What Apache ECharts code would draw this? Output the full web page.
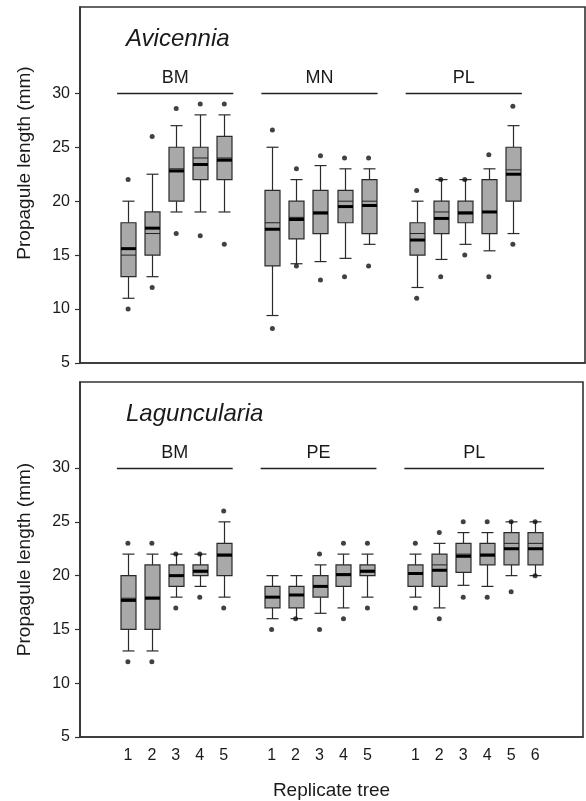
<!DOCTYPE html>
<html>
<head>
<meta charset="utf-8">
<script src="https://cdn.jsdelivr.net/npm/echarts@6/dist/echarts.min.js"></script>
<style>
  html, body { margin: 0; padding: 0; background: #fff; }
  #chart { width: 586px; height: 801px; }
</style>
</head>
<body>
<div id="chart"></div>
<script>
// ---------- Categories (x slots, blanks separate the sites) ----------
const treeCatsTop    = ['', '', '1','2','3','4','5', '', '1','2','3','4','5', '', '1','2','3','4','5', '', '', ''];
const treeCatsBottom = ['', '', '1','2','3','4','5', '', '1','2','3','4','5', '', '1','2','3','4','5','6', '', ''];
const slotsTop    = [2,3,4,5,6, 8,9,10,11,12, 14,15,16,17,18];
const slotsBottom = [2,3,4,5,6, 8,9,10,11,12, 14,15,16,17,18,19];

// site groups: [first slot, last slot]
const sitesTop = ['BM', 'MN', 'PL'];
const siteSpanTop = [[2,6],[8,12],[14,18]];
const sitesBottom = ['BM', 'PE', 'PL'];
const siteSpanBottom = [[2,6],[8,12],[14,19]];

// ---------- Avicennia (mm) ----------
const avWhiskerLow  = [11, 13, 19, 19, 19,   9.4, 14.2, 14.4, 14.7, 16,   12, 14.6, 16, 15.4, 17];
const avQ1          = [13, 15, 20, 22, 22,   14, 16.5, 17, 18, 17,        15, 17, 18, 17, 20];
const avMedian      = [15.0, 17.0, 23.0, 24.0, 24.0,  18.0, 18.5, 19.0, 20.0, 20.0,  17.0, 19.0, 19.0, 19.0, 22.9];
const avMean        = [15.6, 17.5, 22.8, 23.4, 23.8,  17.4, 18.3, 18.9, 19.5, 19.6,  16.4, 18.4, 18.9, 19.0, 22.5];
const avQ3          = [18, 19, 25, 25, 26,   21, 20, 21, 21, 22,          18, 20, 20, 22, 25];
const avWhiskerHigh = [20, 22.5, 27, 28, 28, 25, 22, 23.3, 23, 23,        20, 22, 22, 23, 27];
const avOutHigh     = [22, 26, 28.6, 29, 29, 26.6, 23, 24.2, 24, 24,      21, 22, 22, 24.3, 28.8];
const avOutLow      = [10, 12, 17, 16.8, 16, 8.2, 14, 12.7, 13, 14,       11, 13, 15, 13, 16];

// ---------- Laguncularia (mm) ----------
const lgWhiskerLow  = [13, 13, 18, 19, 18,   16, 16, 16.5, 17, 18,   18, 17, 19.1, 19, 20, 20];
const lgQ1          = [15, 15, 19, 20, 20,   17, 17, 18, 19, 20,     19, 19, 20.3, 21, 21, 21];
const lgMedian      = [17.9, 18.0, 20.0, 20.5, 22.0,  18.0, 18.2, 19.0, 20.0, 20.5,  20.2, 21.0, 22.0, 22.0, 23.0, 23.0];
const lgMean        = [17.7, 17.9, 20.0, 20.4, 21.9,  18.0, 18.2, 19.0, 20.1, 20.4,  20.2, 20.5, 21.8, 21.9, 22.5, 22.5];
const lgQ3          = [20, 21, 21, 21, 23,   19, 19, 20, 21, 21,     21, 22, 23, 23, 24, 24];
const lgWhiskerHigh = [22, 22, 22, 22, 25,   20, 20, 21, 22, 22,     22, 23, 24, 24, 25, 25];
const lgOutHigh     = [23, 23, 22, 22, 26,   null, null, 22, 23, 23, 23, 24, 25, 25, 25, 25];
const lgOutLow      = [12, 12, 17, 18, 17,   15, 16, 15, 16, 17,     17, 16, 18, 18, 18.5, 20];

// ---------- y ticks ----------
const yTicks = [5, 10, 15, 20, 25, 30];

// ---------- styling ----------
const FONT = '"Liberation Sans", Arial, Helvetica, sans-serif';
const TEXT = '#1a1a1a';
const AXIS = '#333333';
const BOX_FILL = '#a9a9a9';

function boxRows(slots, lo, q1, med, mean, q3, hi) {
  return slots.map((s, i) => [s, lo[i], q1[i], med[i], q3[i], hi[i], mean[i]]);
}
function outlierRows(slots, high, low) {
  const out = [];
  slots.forEach((s, i) => {
    if (high[i] != null) out.push([s, high[i]]);
    if (low[i] != null) out.push([s, low[i]]);
  });
  return out;
}

function renderBox(params, api) {
  const x = api.value(0);
  const pLo = api.coord([x, api.value(1)]);
  const pQ1 = api.coord([x, api.value(2)]);
  const pMed = api.coord([x, api.value(3)]);
  const pQ3 = api.coord([x, api.value(4)]);
  const pHi = api.coord([x, api.value(5)]);
  const pMean = api.coord([x, api.value(6)]);
  const cx = Math.round(pQ1[0]) + 0.5;
  const bw = 15, cw = 12;
  const ls = { stroke: '#2a2a2a', lineWidth: 1.2 };
  return {
    type: 'group',
    children: [
      { type: 'line', shape: { x1: cx, y1: pQ3[1], x2: cx, y2: pHi[1] }, style: ls },
      { type: 'line', shape: { x1: cx, y1: pQ1[1], x2: cx, y2: pLo[1] }, style: ls },
      { type: 'line', shape: { x1: cx - cw / 2, y1: pHi[1], x2: cx + cw / 2, y2: pHi[1] }, style: ls },
      { type: 'line', shape: { x1: cx - cw / 2, y1: pLo[1], x2: cx + cw / 2, y2: pLo[1] }, style: ls },
      { type: 'rect', shape: { x: cx - bw / 2, y: pQ3[1], width: bw, height: pQ1[1] - pQ3[1] },
        style: { fill: BOX_FILL, stroke: '#2a2a2a', lineWidth: 1.2 } },
      { type: 'line', shape: { x1: cx - bw / 2, y1: pMed[1], x2: cx + bw / 2, y2: pMed[1] },
        style: { stroke: '#222', lineWidth: 1 } },
      { type: 'line', shape: { x1: cx - bw / 2, y1: pMean[1], x2: cx + bw / 2, y2: pMean[1] },
        style: { stroke: '#000', lineWidth: 3 } }
    ]
  };
}

function makeSiteRenderer(names, spans) {
  return function (params, api) {
    const i = params.dataIndex;
    const a = api.coord([spans[i][0], 30]);
    const b = api.coord([spans[i][1], 30]);
    const y = Math.round(a[1]) + 0.5;
    const x1 = a[0] - 11, x2 = b[0] + 9;
    return {
      type: 'group',
      children: [
        { type: 'line', shape: { x1: x1, y1: y, x2: x2, y2: y }, style: { stroke: '#222', lineWidth: 1.3 } },
        { type: 'text', x: (x1 + x2) / 2, y: y - 15,
          style: { text: names[i], fill: TEXT, font: '18px ' + FONT, textAlign: 'center', textVerticalAlign: 'middle' } }
      ]
    };
  };
}

function yAxisCfg(gridIndex, namePadding) {
  return {
    type: 'value', gridIndex: gridIndex, min: 5, max: 38, interval: 5,
    name: 'Propagule length (mm)', nameLocation: 'middle', nameGap: 46,
    nameTextStyle: { fontSize: 19, color: TEXT, fontFamily: FONT, padding: namePadding },
    axisLine: { show: true, lineStyle: { color: AXIS, width: 1.6 } },
    axisTick: { show: true, length: 5, customValues: yTicks, lineStyle: { color: AXIS, width: 1.2 } },
    axisLabel: { customValues: yTicks, fontSize: 16, color: TEXT, fontFamily: FONT, margin: 10 },
    splitLine: { show: false }
  };
}
function xAxisCfg(gridIndex, cats, showLabels) {
  const cfg = {
    type: 'category', gridIndex: gridIndex, data: cats, boundaryGap: false,
    axisLine: { show: true, lineStyle: { color: AXIS, width: 1.6 } },
    axisTick: { show: false },
    axisLabel: { show: showLabels, interval: 0, fontSize: 16, color: TEXT, fontFamily: FONT, margin: 11 },
    splitLine: { show: false }
  };
  if (showLabels) {
    cfg.name = 'Replicate tree';
    cfg.nameLocation = 'middle';
    cfg.nameGap = 44;
    cfg.nameTextStyle = { fontSize: 19, color: TEXT, fontFamily: FONT };
  }
  return cfg;
}

const chart = echarts.init(document.getElementById('chart'), null, { renderer: 'canvas' });
chart.setOption({
  animation: false,
  backgroundColor: '#fff',
  title: [
    { text: 'Avicennia', left: 121, top: 22,
      textStyle: { fontStyle: 'italic', fontWeight: 'normal', fontSize: 24, color: TEXT, fontFamily: FONT } },
    { text: 'Laguncularia', left: 121, top: 397,
      textStyle: { fontStyle: 'italic', fontWeight: 'normal', fontSize: 24, color: TEXT, fontFamily: FONT } }
  ],
  grid: [
    { left: 80, right: 1, top: 7, height: 356, show: true, borderColor: AXIS, borderWidth: 1.6, backgroundColor: 'transparent' },
    { left: 80, right: 1, top: 382, height: 356, show: true, borderColor: AXIS, borderWidth: 1.6, backgroundColor: 'transparent' }
  ],
  xAxis: [xAxisCfg(0, treeCatsTop, false), xAxisCfg(1, treeCatsBottom, true)],
  yAxis: [yAxisCfg(0, [0, 0, 0, 44]), yAxisCfg(1, 0)],
  series: [
    { type: 'custom', xAxisIndex: 0, yAxisIndex: 0, renderItem: renderBox,
      data: boxRows(slotsTop, avWhiskerLow, avQ1, avMedian, avMean, avQ3, avWhiskerHigh) },
    { type: 'scatter', xAxisIndex: 0, yAxisIndex: 0, symbol: 'circle', symbolSize: 5,
      itemStyle: { color: '#111' }, data: outlierRows(slotsTop, avOutHigh, avOutLow) },
    { type: 'custom', xAxisIndex: 0, yAxisIndex: 0, renderItem: makeSiteRenderer(sitesTop, siteSpanTop),
      data: sitesTop.map((n, i) => [siteSpanTop[i][0], 30]) },

    { type: 'custom', xAxisIndex: 1, yAxisIndex: 1, renderItem: renderBox,
      data: boxRows(slotsBottom, lgWhiskerLow, lgQ1, lgMedian, lgMean, lgQ3, lgWhiskerHigh) },
    { type: 'scatter', xAxisIndex: 1, yAxisIndex: 1, symbol: 'circle', symbolSize: 5,
      itemStyle: { color: '#111' }, data: outlierRows(slotsBottom, lgOutHigh, lgOutLow) },
    { type: 'custom', xAxisIndex: 1, yAxisIndex: 1, renderItem: makeSiteRenderer(sitesBottom, siteSpanBottom),
      data: sitesBottom.map((n, i) => [siteSpanBottom[i][0], 30]) }
  ]
});
</script>
</body>
</html>
